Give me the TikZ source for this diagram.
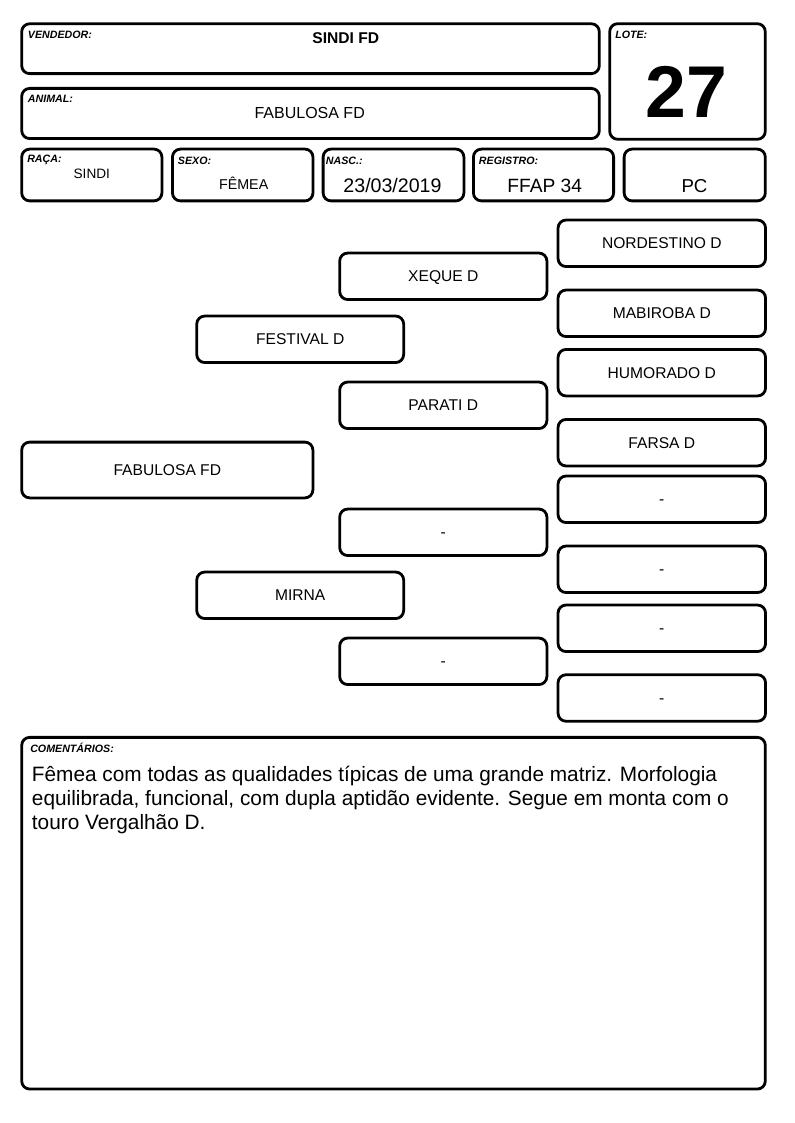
\documentclass[tikz,border=0pt]{standalone}
\usepackage{fontspec}
\setmainfont{Liberation Sans}
\usetikzlibrary{math}

\begin{document}
\begin{tikzpicture}[x=0.75pt, y=-0.75pt,
  caixa/.style 2 args={draw, line width=2.1pt, rounded corners=6pt, inner sep=0pt,
    minimum width=#1*0.75pt-2.1pt, minimum height=#2*0.75pt-2.1pt},
  rotulo/.style={anchor=base west, inner sep=0pt, font=\fontsize{8}{9}\selectfont\bfseries\itshape},
  valor/.style={anchor=base, inner sep=0pt},
  nome/.style={font=\fontsize{11.7}{14}\selectfont, text height=8.4pt, text depth=0pt}]

\useasboundingbox (0,0) rectangle (794,1123);

\tikzmath{
	\xum = 167.3; \xdois = 300.2; \xtres = 443.3; \xquatro = 661.8;
	\wnome = 210; \hnome = 49.3;
	\ylinha = 175; \hlinha = 54.6;
          }

% cabecalho
\node[caixa={580.4}{52.7}] (vendedor) at (310.5,48.7) {};
\node[rotulo] (vendedorrot) at (27.7,39) {VENDEDOR:};
\node[valor, font=\fontsize{11.7}{14}\selectfont\bfseries] (vendedornome) at (345.8,43.3) {SINDI FD};

\node[caixa={580.4}{53}] (animal) at (310.5,113.5) {};
\node[rotulo] (animalrot) at (27.7,102.3) {ANIMAL:};
\node[valor, font=\fontsize{12}{14}\selectfont] (animalnome) at (309.7,119) {FABULOSA FD};

\node[caixa={158.4}{118.4}] (lote) at (687.5,81.5) {};
\node[rotulo] (loterot) at (615,39) {LOTE:};
\node[valor, font=\fontsize{55}{60}\selectfont\bfseries] (lotenum) at (686.7,117.8) {27};

\node[caixa={143}{\hlinha}] (raca) at (91.8,\ylinha) {};
\node[rotulo] (racarot) at (27,162.7) {RAÇA:};
\node[valor, font=\fontsize{10.2}{12}\selectfont] (racanome) at (91.8,178.3) {SINDI};

\node[caixa={143.3}{\hlinha}] (sexo) at (242.7,\ylinha) {};
\node[rotulo] (sexorot) at (177.7,164.3) {SEXO:};
\node[valor, font=\fontsize{10.7}{12}\selectfont] (sexonome) at (243.7,189.3) {FÊMEA};

\node[caixa={143.6}{\hlinha}] (nasc) at (393.5,\ylinha) {};
\node[rotulo] (nascrot) at (325.7,164.3) {NASC.:};
\node[valor, font=\fontsize{14.7}{16}\selectfont] (nascdata) at (392.5,192.3) {23/03/2019};

\node[caixa={143}{\hlinha}] (registro) at (543.5,\ylinha) {};
\node[rotulo] (registrorot) at (478.7,164.3) {REGISTRO:};
\node[valor, font=\fontsize{14.4}{16}\selectfont] (registronum) at (544.7,192.3) {FFAP 34};

\node[caixa={144}{\hlinha}] (categoria) at (694.7,\ylinha) {};
\node[valor, font=\fontsize{14}{16}\selectfont] (categorianome) at (694.5,192.3) {PC};

% genealogia
\node[caixa={294}{58.6}, nome] (proprio) at (\xum,470) {FABULOSA FD};

\node[caixa={209.7}{\hnome}, nome] (pai) at (\xdois,339.3) {FESTIVAL D};
\node[caixa={209.7}{\hnome}, nome] (mae) at (\xdois,595.3) {MIRNA};

\node[caixa={\wnome}{\hnome}, nome] (avopp) at (\xtres,276.3) {XEQUE D};
\node[caixa={\wnome}{\hnome}, nome] (avopm) at (\xtres,405.3) {PARATI D};
\node[caixa={\wnome}{\hnome}, nome] (avomp) at (\xtres,532.3) {-};
\node[caixa={\wnome}{\hnome}, nome] (avomm) at (\xtres,661.3) {-};

\node[caixa={210.3}{\hnome}, nome] (bisa1) at (\xquatro,243.3) {NORDESTINO D};
\node[caixa={210.3}{\hnome}, nome] (bisa2) at (\xquatro,313.3) {MABIROBA D};
\node[caixa={210.3}{\hnome}, nome] (bisa3) at (\xquatro,372.7) {HUMORADO D};
\node[caixa={210.3}{\hnome}, nome] (bisa4) at (\xquatro,442.7) {FARSA D};
\node[caixa={210.3}{\hnome}, nome] (bisa5) at (\xquatro,499.3) {-};
\node[caixa={210.3}{\hnome}, nome] (bisa6) at (\xquatro,569.3) {-};
\node[caixa={210.3}{\hnome}, nome] (bisa7) at (\xquatro,628.3) {-};
\node[caixa={210.3}{\hnome}, nome] (bisa8) at (\xquatro,698) {-};

% comentarios
\node[caixa={746.4}{354.5}] (comentarios) at (393.5,913.2) {};
\node[rotulo] (comentariosrot) at (30,752.7) {COMENTÁRIOS:};
\node[anchor=base west, align=left, inner sep=0pt, font=\fontsize{15.6}{18}\selectfont] (comentariostexto) at (31.7,829.5)
  {Fêmea com todas as qualidades típicas de uma grande matriz. Morfologia\\
   equilibrada, funcional, com dupla aptidão evidente. Segue em monta com o\\
   touro Vergalhão D.};

\end{tikzpicture}
\end{document}
